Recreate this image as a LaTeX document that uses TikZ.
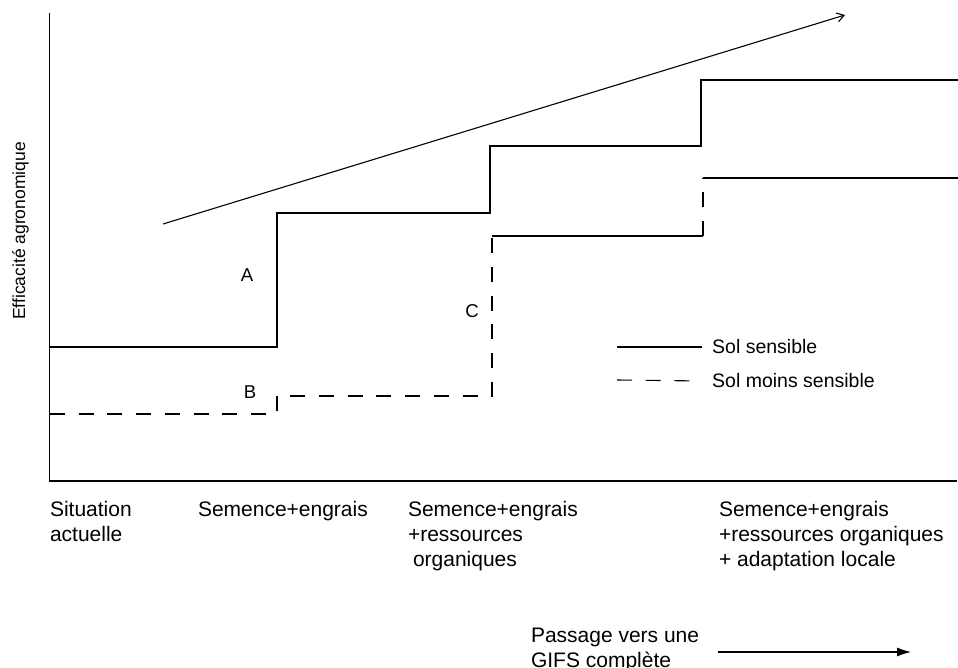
\documentclass[tikz,border=0pt]{standalone}
\usepackage{fontspec}
\setmainfont{Liberation Sans}
\usetikzlibrary{arrows,arrows.meta,positioning}

\begin{document}
\begin{tikzpicture}[x=1pt,y=-1pt]
\tikzstyle{lbl}=[inner sep=0pt,outer sep=0pt,align=left,anchor=base west,
font=\fontsize{21}{25}\selectfont]
\tikzstyle{lettre}=[inner sep=0pt,font=\fontsize{18.6}{20}\selectfont]
\tikzstyle{leg}=[inner sep=0pt,anchor=west,font=\fontsize{19.5}{22}\selectfont]
\tikzstyle{plein}=[line width=1.1pt]
\tikzstyle{tiret}=[line width=1.1pt,dash pattern=on 15pt off 13.7pt]
\useasboundingbox (0,0) rectangle (958,668);

% axes
\coordinate (ytop) at (49.5,13);
\coordinate (o) at (49.5,481);
\coordinate (xend) at (957,481);
\draw[plein] (ytop) -- (o) -- (xend);
\node[rotate=90,anchor=base,inner sep=0pt,font=\fontsize{17.5}{20}\selectfont]
 (ylab) at (25,231) {Efficacité agronomique};

% tendance
\coordinate (t0) at (163,224);
\coordinate (t1) at (845,15);
\draw[plein,-{Straight Barb[length=7pt,width=9pt]}] (t0) -- (t1);

% sol sensible
\coordinate (s0) at (50,347);
\coordinate (s1) at (277,347);
\coordinate (s2) at (277,213);
\coordinate (s3) at (490,213);
\coordinate (s4) at (490,146);
\coordinate (s5) at (701,146);
\coordinate (s6) at (701,80);
\coordinate (s7) at (958,80);
\draw[plein] (s0) -- (s1) -- (s2) -- (s3) -- (s4) -- (s5) -- (s6) -- (s7);

% sol moins sensible
\coordinate (m0) at (50,414);
\coordinate (m1) at (277,414);
\coordinate (m2) at (277,396);
\coordinate (m3) at (492,396);
\coordinate (m4) at (492,236);
\coordinate (m5) at (703,236);
\coordinate (m6) at (703,178);
\coordinate (m7) at (958,178);
\draw[tiret] (m0) -- (m1) -- (m2) -- (m3) -- (m4);
\draw[plein] (m4) -- (m5);
\draw[tiret] (m5) -- (m6);
\draw[plein] (m6) -- (m7);

\node[lettre] (A) at (247,275) {A};
\node[lettre] (B) at (250,392) {B};
\node[lettre] (C) at (472,311) {C};

% legende
\node[leg] (leg1) at (712,347) {Sol sensible};
\node[leg] (leg2) at (712,381) {Sol moins sensible};
\coordinate (l1) at (617,347);
\coordinate (l2) at (617,380);
\draw[plein] (l1) -- (leg1.west -| 702,0);
\draw[tiret] (l2) -- (leg2.west -| 702,0);

% etapes (base = derniere ligne)
\node[lbl] (e0) at (50,541) {Situation\\actuelle};
\node[lbl] (e1) at (198,516) {Semence+engrais};
\node[lbl] (e2) at (408,566) {Semence+engrais\\+ressources\\\hspace*{5pt}organiques};
\node[lbl] (e3) at (719,566) {Semence+engrais\\+ressources organiques\\+ adaptation locale};

\node[lbl] (pas) at (531,667) {Passage vers une\\GIFS complète};
\coordinate (p0) at (718,652);
\coordinate (p1) at (911,652);
\draw[plein,-{Latex[length=14pt,width=9pt]}] (p0) -- (p1);

\end{tikzpicture}
\end{document}
